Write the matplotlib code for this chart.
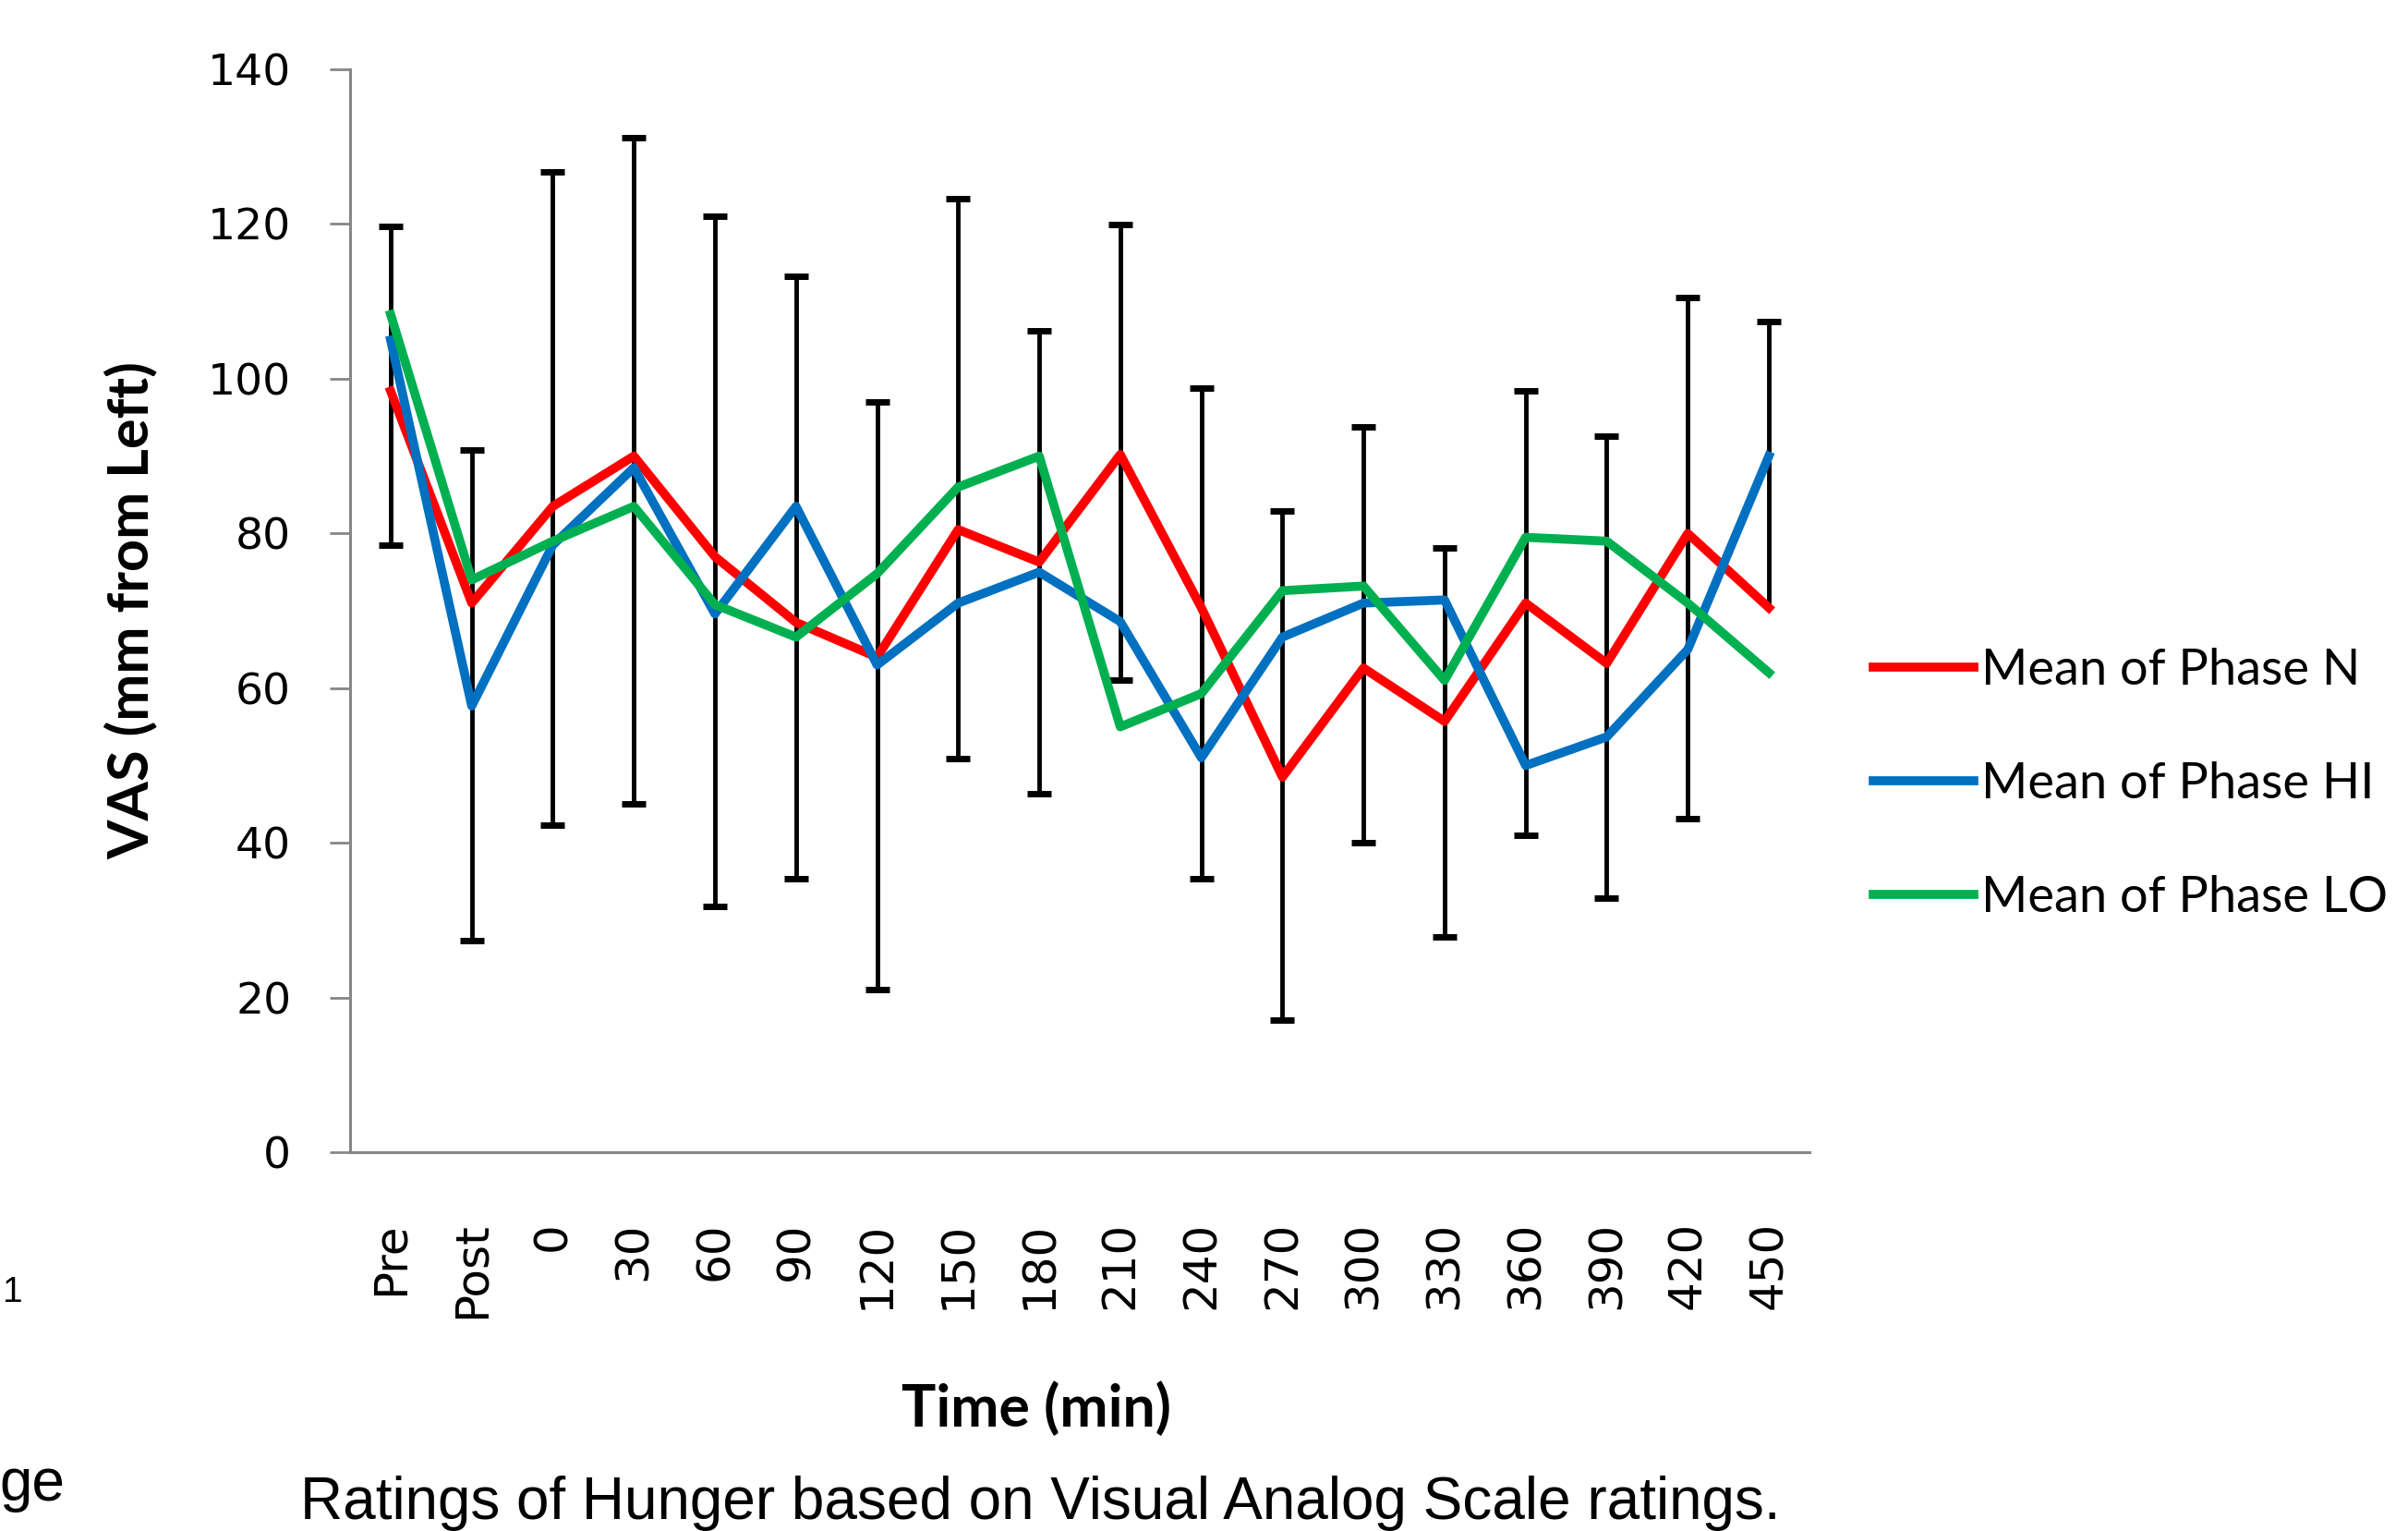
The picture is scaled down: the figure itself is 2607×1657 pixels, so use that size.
import matplotlib
matplotlib.use("Agg")
import matplotlib.pyplot as plt

# time points on the x axis
timepoints = ["Pre", "Post", "0", "30", "60", "90", "120", "150", "180", "210",
              "240", "270", "300", "330", "360", "390", "420", "450"]

# mean VAS per phase
phase_n = [98.4, 71.0, 83.5, 90.0, 77.0, 68.5, 64.0, 80.5, 76.3, 90.2,
           70.4, 48.5, 62.6, 55.7, 71.0, 63.2, 80.0, 70.4]
phase_hi = [105.0, 57.7, 78.5, 88.5, 69.6, 83.5, 63.0, 71.0, 75.0, 68.6,
            51.0, 66.6, 71.0, 71.4, 50.0, 53.7, 65.0, 90.0]
phase_lo = [108.3, 74.0, 79.0, 83.5, 70.8, 66.6, 74.8, 86.0, 90.0, 55.0,
            59.3, 72.6, 73.2, 61.0, 79.5, 79.0, 71.0, 62.0]

# error bar ends as drawn
err_hi = [119.7, 90.8, 126.8, 131.2, 121.0, 113.3, 97.0, 123.3, 106.2, 119.9,
          98.8, 82.9, 93.8, 78.1, 98.4, 92.6, 110.5, 107.4]
err_lo = [78.5, 27.4, 42.3, 45.1, 31.8, 35.4, 21.0, 50.9, 46.3, 61.0,
          35.4, 17.1, 40.0, 27.8, 41.0, 32.8, 43.1, 70.4]
lo_cap = [True] * 17 + [False]

x = list(range(len(timepoints)))
grey = "#868686"

fig = plt.figure(figsize=(26.07, 16.57), dpi=100)
ax = fig.add_axes([0.1454, 0.2474, 0.606, 0.7073])

# error bars first, lines on top
ax.vlines(x, err_lo, err_hi, color="black", linewidth=3.5, zorder=2)
ax.plot(x, err_hi, linestyle="none", marker="_", markersize=19,
        markeredgewidth=5, color="black", zorder=2)
ax.plot([xi for xi, c in zip(x, lo_cap) if c],
        [v for v, c in zip(err_lo, lo_cap) if c],
        linestyle="none", marker="_", markersize=19,
        markeredgewidth=5, color="black", zorder=2)

lw = 7
ax.plot(x, phase_n, color="#FF0000", linewidth=lw, label="Mean of Phase N", zorder=3)
ax.plot(x, phase_hi, color="#0070C0", linewidth=lw, label="Mean of Phase HI", zorder=3)
ax.plot(x, phase_lo, color="#00B050", linewidth=lw, label="Mean of Phase LO", zorder=3)

ax.set_xlim(-0.5, len(timepoints) - 0.5)
ax.set_ylim(0, 140)
ax.set_yticks(range(0, 141, 20))
ax.set_xticks(x)
ax.set_xticklabels(timepoints, rotation=90, fontsize=36, family="DejaVu Sans")
for lab in ax.get_yticklabels():
    lab.set_fontsize(34)
    lab.set_family("DejaVu Sans")

ax.spines["top"].set_visible(False)
ax.spines["right"].set_visible(False)
ax.spines["left"].set_color(grey)
ax.spines["bottom"].set_color(grey)
ax.spines["left"].set_linewidth(2.2)
ax.spines["bottom"].set_linewidth(2.2)
ax.tick_params(axis="y", length=16, width=2, color=grey, pad=30)
ax.tick_params(axis="x", length=0, pad=54)

ax.set_ylabel("VAS (mm from Left)", fontsize=44, fontweight="bold",
              family="Lato", va="center")
ax.yaxis.set_label_coords(-0.1505, 0.5)
ax.set_xlabel("Time (min)", fontsize=45, fontweight="bold", family="Lato",
              va="center")
ax.xaxis.set_label_coords(0.47, -0.237)

ax.legend(loc="center left", bbox_to_anchor=(1.044, 0.34), frameon=False,
          prop={"family": "Lato", "size": 39}, handlelength=2.0,
          handletextpad=0.15, labelspacing=1.37, borderpad=0,
          borderaxespad=0)

fig.text(0.432, 0.008, "Ratings of Hunger based on Visual Analog Scale ratings.",
         ha="center", va="baseline", fontsize=46, family="Liberation Sans")
fig.text(0.027, 0.02, "ge", ha="right", va="baseline", fontsize=46,
         family="Liberation Sans")
fig.text(0.001, 0.145, "1", ha="left", va="bottom", fontsize=28,
         family="Liberation Sans")

fig.savefig("out.png", dpi=100)
